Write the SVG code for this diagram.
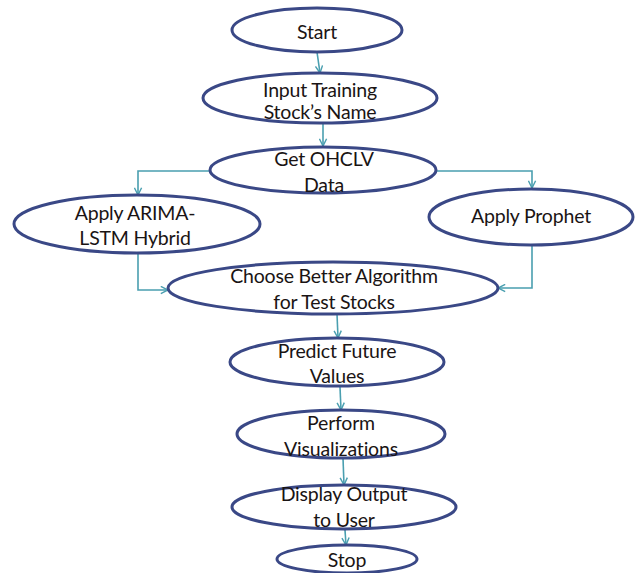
<svg xmlns="http://www.w3.org/2000/svg" width="636" height="573" viewBox="0 0 636 573">
  <defs>
    <marker id="arrow" viewBox="0 0 10 10" refX="9" refY="5" markerWidth="9" markerHeight="9" markerUnits="userSpaceOnUse" orient="auto">
      <path d="M1,1 L9,5 L1,9" fill="none" stroke="#4a9fb0" stroke-width="1.6"/>
    </marker>
  </defs>
  <style>
    .node ellipse { fill: #ffffff; stroke: #3a4886; stroke-width: 3; }
    .node text { font-family: "Lato", "Open Sans", "Liberation Sans", sans-serif; font-size: 19.5px; fill: #1a1414; text-anchor: middle; letter-spacing: -0.2px; }
    .edges path { fill: none; stroke: #4a9fb0; stroke-width: 1.6; marker-end: url(#arrow); }
  </style>
  <rect width="636" height="573" fill="#ffffff"/>

  <!-- flow connectors -->
  <g class="edges">
    <path d="M317,52 L320,73"/>
    <path d="M323,123 L323,146"/>
    <path d="M210,171 L138,171 L138,195"/>
    <path d="M437,171 L532,171 L532,188"/>
    <path d="M138,253 L138,290 L168,290"/>
    <path d="M532,245 L532,288 L498,288"/>
    <path d="M337,314 L338,338"/>
    <path d="M340,387 L341,410"/>
    <path d="M343,458 L344,485"/>
    <path d="M345,530 L346,545"/>
  </g>

  <g id="start" class="node">
    <ellipse cx="317" cy="30" rx="85" ry="22"/>
    <text x="317" y="39">Start</text>
  </g>
  <g id="input" class="node">
    <ellipse cx="320" cy="98" rx="117" ry="25"/>
    <text x="320" y="97">Input Training</text>
    <text x="320" y="119">Stock’s Name</text>
  </g>
  <g id="ohclv" class="node">
    <ellipse cx="323" cy="170" rx="113" ry="23"/>
    <text x="324" y="166">Get OHCLV</text>
    <text x="324" y="192">Data</text>
  </g>
  <g id="arima" class="node">
    <ellipse cx="137" cy="224" rx="123" ry="29"/>
    <text x="135" y="220">Apply ARIMA-</text>
    <text x="135" y="245">LSTM Hybrid</text>
  </g>
  <g id="prophet" class="node">
    <ellipse cx="531" cy="217" rx="102" ry="28"/>
    <text x="531" y="223">Apply Prophet</text>
  </g>
  <g id="choose" class="node">
    <ellipse cx="333" cy="288" rx="165" ry="26"/>
    <text x="334" y="283">Choose Better Algorithm</text>
    <text x="334" y="309">for Test Stocks</text>
  </g>
  <g id="predict" class="node">
    <ellipse cx="337" cy="362" rx="107" ry="24"/>
    <text x="337" y="358">Predict Future</text>
    <text x="337" y="383">Values</text>
  </g>
  <g id="visualize" class="node">
    <ellipse cx="341" cy="434" rx="104" ry="24"/>
    <text x="341" y="430">Perform</text>
    <text x="341" y="456">Visualizations</text>
  </g>
  <g id="display" class="node">
    <ellipse cx="344" cy="507" rx="112" ry="22"/>
    <text x="344" y="501">Display Output</text>
    <text x="344" y="527">to User</text>
  </g>
  <g id="stop" class="node">
    <ellipse cx="347" cy="559" rx="70" ry="14"/>
    <text x="347" y="567">Stop</text>
  </g>
</svg>
